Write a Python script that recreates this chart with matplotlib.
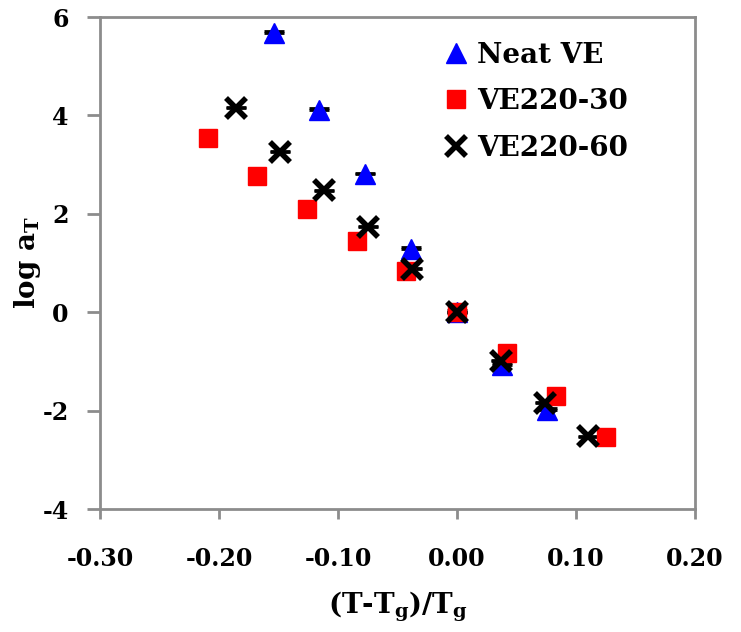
#-  Python 3 source code

#-  plot.py ~~
#
#   Shift factors (log aT) against the reduced temperature (T-Tg)/Tg for the
#   neat vinyl ester and the two VE220 blends.

import matplotlib
matplotlib.use("Agg")
import matplotlib.pyplot as pyplot
from matplotlib.ticker import FormatStrFormatter

###

neat_x = [-0.154, -0.116, -0.077, -0.0385, 0.0, 0.0375, 0.076]
neat_y = [5.67, 4.12, 2.80, 1.28, 0.0, -1.08, -1.98]

ve30_x = [-0.209, -0.168, -0.126, -0.084, -0.043, 0.0, 0.042, 0.083, 0.125]
ve30_y = [3.54, 2.77, 2.09, 1.44, 0.83, 0.0, -0.83, -1.70, -2.53]

ve60_x = [-0.186, -0.149, -0.112, -0.0745, -0.038, 0.0, 0.037, 0.074, 0.110]
ve60_y = [4.16, 3.26, 2.48, 1.74, 0.88, 0.0, -0.99, -1.84, -2.52]

x_ticks = [-0.30, -0.20, -0.10, 0.00, 0.10, 0.20]
y_ticks = [-4, -2, 0, 2, 4, 6]

###

def main():

    pyplot.rcParams["font.family"] = ["DejaVu Serif"]
    pyplot.rcParams["font.weight"] = "bold"
    pyplot.rcParams["axes.unicode_minus"] = False
    pyplot.rcParams["mathtext.fontset"] = "custom"
    pyplot.rcParams["mathtext.rm"] = "DejaVu Serif:bold"
    pyplot.rcParams["mathtext.it"] = "DejaVu Serif:bold"
    pyplot.rcParams["mathtext.default"] = "rm"

    fig = pyplot.figure(figsize=(7.41, 6.32), dpi=100)
    ax = fig.add_axes([0.135, 0.1946, 0.803, 0.7784])

  # Small error bars sit under the markers, like the spreadsheet original
    ax.errorbar(neat_x, [y + 0.02 for y in neat_y], yerr=0.02, fmt="none",
                ecolor="black", elinewidth=1.5, capsize=7, capthick=2,
                zorder=2)
    ax.errorbar(ve60_x, ve60_y, yerr=0.01, fmt="none", ecolor="black",
                elinewidth=1.5, capsize=7, capthick=2, zorder=2)

    ax.plot(neat_x, neat_y, linestyle="none", marker="^", markersize=15,
            color="#0000FF", label="Neat VE", zorder=3)
    ax.plot(ve30_x, ve30_y, linestyle="none", marker="s", markersize=13.5,
            color="#FF0000", label="VE220-30", zorder=4)
    ax.plot(ve60_x, ve60_y, linestyle="none", marker="x", markersize=15,
            markeredgewidth=4, color="black", label="VE220-60", zorder=5)

    ax.set_xlim(-0.30, 0.20)
    ax.set_ylim(-4, 6)
    ax.set_xticks(x_ticks)
    ax.set_yticks(y_ticks)
    ax.xaxis.set_major_formatter(FormatStrFormatter("%.2f"))

    for side in ["left", "right", "top", "bottom"]:
        ax.spines[side].set_color("#8c8c8c")
        ax.spines[side].set_linewidth(2)

    ax.tick_params(axis="x", direction="out", length=7, width=2,
                   color="#8c8c8c", labelsize=17, pad=20)
    ax.tick_params(axis="y", direction="out", length=9.5, width=2,
                   color="#8c8c8c", labelsize=17, pad=13)

    ax.set_xlabel("(T-T$_g$)/T$_g$", fontsize=20, fontweight="bold",
                  labelpad=14)
    ax.set_ylabel("log a$_T$", fontsize=20, fontweight="bold", labelpad=0)

    ax.legend(loc="upper left", bbox_to_anchor=(0.58, 0.95), frameon=False,
              fontsize=20, handlelength=0.8, handletextpad=0.35,
              labelspacing=0.7, borderpad=0, borderaxespad=0,
              numpoints=1)

    fig.savefig("out.png", dpi=100)

###

if __name__ == "__main__":
    main()
